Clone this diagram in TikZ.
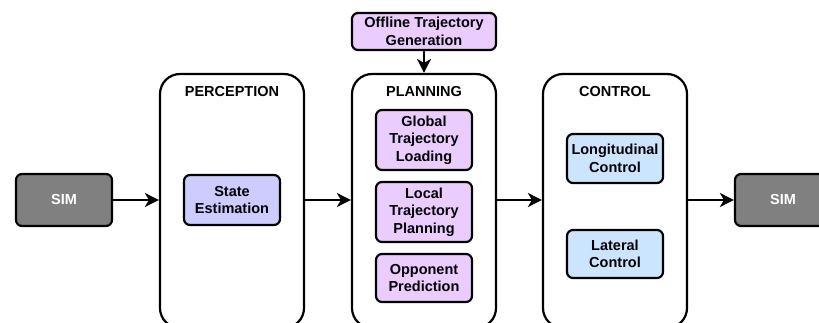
\documentclass[tikz,border=0pt]{standalone}
\usepackage{fontspec}
\setmainfont{Liberation Sans}
\usetikzlibrary{arrows.meta}
\definecolor{simgray}{HTML}{808080}
\definecolor{purplefill}{HTML}{EBCCFF}
\definecolor{stateblue}{HTML}{CCCCFF}
\definecolor{ctrlblue}{HTML}{CCE5FF}
\tikzset{
  txt/.style={font=\bfseries\fontsize{14.5}{17.5}\selectfont, align=center},
  bigbox/.style={draw=black, line width=2.2pt, rounded corners=20pt, fill=white, minimum width=144pt, minimum height=254pt},
  smallbox/.style={draw=black, line width=2.2pt, rounded corners=6pt, txt, inner sep=1pt},
  simbox/.style={smallbox, fill=simgray, text=white, minimum width=96pt, minimum height=52pt},
  planbox/.style={smallbox, fill=purplefill, minimum width=96pt},
  arr/.style={line width=2pt, -{Stealth[length=14pt,width=14pt,inset=4pt]}},
  title/.style={txt}
}
\begin{document}
\begin{tikzpicture}[x=1pt,y=-1pt]
\useasboundingbox (0,0) rectangle (819,323);
\clip (0,0) rectangle (819,323);
% big boxes
\node[bigbox] (per) at (232,201) {};
\node[bigbox] (plan) at (424,201) {};
\node[bigbox] (ctrl) at (615,201) {};
\node[title] (pertitle) at (232,92) {PERCEPTION};
\node[title] (plantitle) at (424,92) {PLANNING};
\node[title] (ctrltitle) at (615,92) {CONTROL};
% sims
\node[simbox] (sim1) at (64,200) {SIM};
\node[simbox] (sim2) at (783,200) {SIM};
% perception
\node[smallbox, fill=stateblue, minimum width=96pt, minimum height=50pt] (state) at (232,200) {State\\Estimation};
% planning
\node[planbox, minimum width=144pt, minimum height=37pt] (offline) at (424,31.5) {Offline Trajectory\\Generation};
\node[planbox, minimum height=60pt] (global) at (424,140) {Global\\Trajectory\\Loading};
\node[planbox, minimum height=60pt] (local) at (424,212) {Local\\Trajectory\\Planning};
\node[planbox, minimum height=48pt] (opp) at (424,278) {Opponent\\Prediction};
% control
\node[smallbox, fill=ctrlblue, minimum width=96pt, minimum height=49pt] (long) at (615,158.5) {Longitudinal\\Control};
\node[smallbox, fill=ctrlblue, minimum width=96pt, minimum height=48pt] (lat) at (615,254) {Lateral\\Control};
% arrows
\draw[arr] (sim1.east) -- (sim1.east -| per.west);
\draw[arr] (per.east |- sim1.east) -- (sim1.east -| plan.west);
\draw[arr] (plan.east |- sim1.east) -- (sim1.east -| ctrl.west);
\draw[arr] (ctrl.east |- sim1.east) -- (sim2.west);
\draw[arr] (offline.south) -- (plan.north);
\end{tikzpicture}
\end{document}
